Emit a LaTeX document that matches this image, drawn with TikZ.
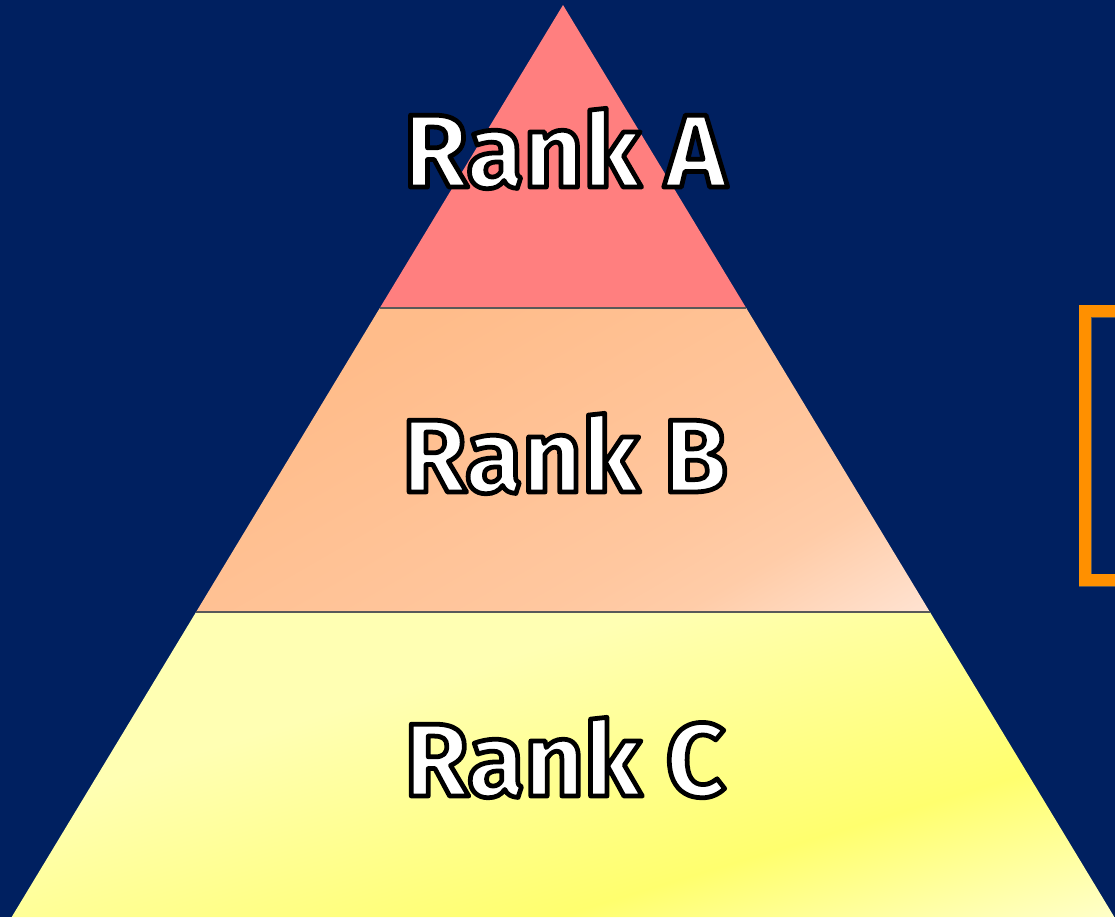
\documentclass[tikz,border=0pt]{standalone}
\usepackage{fontspec}
\setmainfont{Fira Sans}
\definecolor{navy}{HTML}{002060}
\definecolor{rankared}{HTML}{FF7F7F}
\definecolor{bracketorange}{HTML}{FF9000}
\definecolor{sepgrey}{HTML}{595959}
\definecolor{peachA}{HTML}{FFBC8A}
\definecolor{peachB}{HTML}{FFC79F}
\definecolor{peachC}{HTML}{FFCCA8}
\definecolor{peachD}{HTML}{FFE2D0}
\definecolor{paleA}{HTML}{FFFFB3}
\definecolor{brightY}{HTML}{FFFF6E}
\definecolor{paleB}{HTML}{FFFFD2}
\pgfdeclarehorizontalshading{rankbshade}{100bp}{color(0bp)=(peachA); color(42bp)=(peachA); color(55bp)=(peachB); color(58bp)=(peachC); color(63bp)=(peachD); color(100bp)=(peachD)}
\pgfdeclarehorizontalshading{rankcshade}{100bp}{color(0bp)=(paleA); color(45bp)=(paleA); color(56bp)=(brightY); color(63.5bp)=(paleB); color(100bp)=(paleB)}
% white letters with a black outline
\newcommand{\outlined}[1]{\special{pdf:literal direct 2 Tr 2.7 w 1 j 0 0 0 RG}#1\special{pdf:literal direct 0 Tr}}
\tikzset{
  ranklabel/.style={font=\fontsize{59}{66}\selectfont\bfseries, anchor=base, text=white},
  seprule/.style={draw=sepgrey, line width=0.85pt}
}
\begin{document}
\begin{tikzpicture}[x=0.02cm,y=-0.02cm]
  \fill[navy] (0,0) rectangle (1115,917);
  \useasboundingbox (0,0) rectangle (1115,917);
  % pyramid corners
  \coordinate (tip) at (563,5);
  \coordinate (al) at (379.8,308);
  \coordinate (ar) at (746.2,308);
  \coordinate (bl) at (196.1,612);
  \coordinate (br) at (929.9,612);
  \coordinate (cl) at (11.7,917);
  \coordinate (cr) at (1114.3,917);
  % bands
  \fill[rankared] (tip) -- (ar) -- (al) -- cycle;
  \begin{scope}
    \clip (al) -- (ar) -- (br) -- (bl) -- cycle;
    \shade[shading=rankbshade, shading angle=-60] (-37,-140) rectangle (1163,1060);
  \end{scope}
  \begin{scope}
    \clip (bl) -- (br) -- (cr) -- (cl) -- cycle;
    \shade[shading=rankcshade, shading angle=-73] (-37,165) rectangle (1163,1365);
  \end{scope}
  \draw[seprule] (al) -- (ar);
  \draw[seprule] (bl) -- (br);
  % bracket on the right
  \draw[sepgrey, line width=7.4pt] (1130,311) -- (1085,311) -- (1085,580) -- (1130,580);
  \draw[bracketorange, line width=6.4pt] (1130,311) -- (1085,311) -- (1085,580) -- (1130,580);
  % labels
  \node[ranklabel] (ranka) at (565,187) {\outlined{Rank A}};
  \node[ranklabel] (rankb) at (565,492) {\outlined{Rank B}};
  \node[ranklabel] (rankc) at (565,796) {\outlined{Rank C}};
\end{tikzpicture}
\end{document}
